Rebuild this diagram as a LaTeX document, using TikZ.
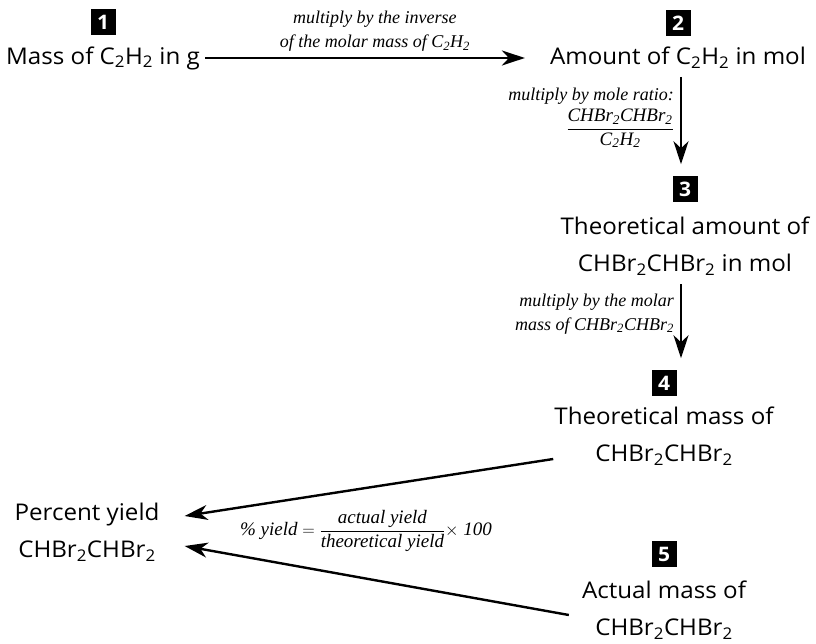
\documentclass[tikz,border=0pt]{standalone}
\usepackage{amsmath}
\usepackage{fontspec}
\setmainfont{Open Sans}[FakeStretch=1.05]
\newfontfamily\lblfont{Liberation Serif}
\usetikzlibrary{positioning,arrows.meta}
\newcommand\sub[1]{\textsubscript{#1}}

\begin{document}
\begin{tikzpicture}[x=1pt,y=-1pt,
    qty/.style={font=\fontsize{23}{37}\selectfont, inner sep=1pt, align=center},
    numbox/.style={fill=black, text=white, font=\fontsize{20}{20}\selectfont\bfseries,
      minimum width=25pt, minimum height=26pt, inner sep=0pt},
    lbl/.style={font=\lblfont\itshape\fontsize{18}{24}\selectfont, inner sep=1pt},
    conv/.style={-{Stealth[length=23pt,width=15pt,inset=7pt]}, line width=2.4pt}]
    \useasboundingbox (0,0) rectangle (816,644);

    \node[qty] (m1) at (103,58) {Mass of C\sub2H\sub2 in g};
    \node[numbox, above=10pt of m1] (n1) {1};

    \node[qty] (m2) at (678,58) {Amount of C\sub2H\sub2 in mol};
    \node[numbox, above=10pt of m2] (n2) {2};

    \node[qty] (m3) at (685,246) {Theoretical amount of\\CHBr\sub2CHBr\sub2 in mol};
    \node[numbox, above=13pt of m3] (n3) {3};

    \node[qty] (m4) at (664,436) {Theoretical mass of\\CHBr\sub2CHBr\sub2};
    \node[numbox, above=9pt of m4] (n4) {4};

    \node[qty] (m5) at (664,610) {Actual mass of\\CHBr\sub2CHBr\sub2};
    \node[numbox, above=12pt of m5] (n5) {5};

    \node[qty] (py) at (87,532) {Percent yield\\CHBr\sub2CHBr\sub2};

    \coordinate (ax) at (681,0);

    \draw[conv, shorten <=4pt, shorten >=24pt] (m1.east) -- (m2.west)
      node[lbl, midway, above=4pt, align=center]
      {multiply by the inverse\\of the molar mass of C\sub2H\sub2};

    \draw[conv, shorten <=7pt, shorten >=12pt] (m2.south -| ax) -- (n3.north -| ax)
      node[lbl, pos=0.45, left=5pt, align=right]
      {multiply by mole ratio:\\[4pt]$\dfrac{\mbox{\lblfont\itshape\fontsize{19}{24}\selectfont CHBr\sub2CHBr\sub2}}{\mbox{\lblfont\itshape\fontsize{19}{24}\selectfont C\sub2H\sub2}}$};

    \draw[conv, shorten <=8pt, shorten >=12pt] (m3.south -| ax) -- (n4.north -| ax)
      node[lbl, pos=0.4, left=5pt, align=right]
      {multiply by the molar\\mass of CHBr\sub2CHBr\sub2};

    \draw[conv] ([xshift=0pt,yshift=-23pt]m4.west) -- ([xshift=24pt,yshift=16pt]py.east);
    \draw[conv] ([xshift=-12pt,yshift=-5pt]m5.west) -- ([xshift=24pt,yshift=-14pt]py.east);

    \node[lbl, font=\lblfont\itshape\fontsize{19}{24}\selectfont] (pct) at (366,531)
      {\% yield $=\dfrac{\mbox{\lblfont\itshape actual yield}}{\mbox{\lblfont\itshape theoretical yield}}\times$ 100};
\end{tikzpicture}
\end{document}
